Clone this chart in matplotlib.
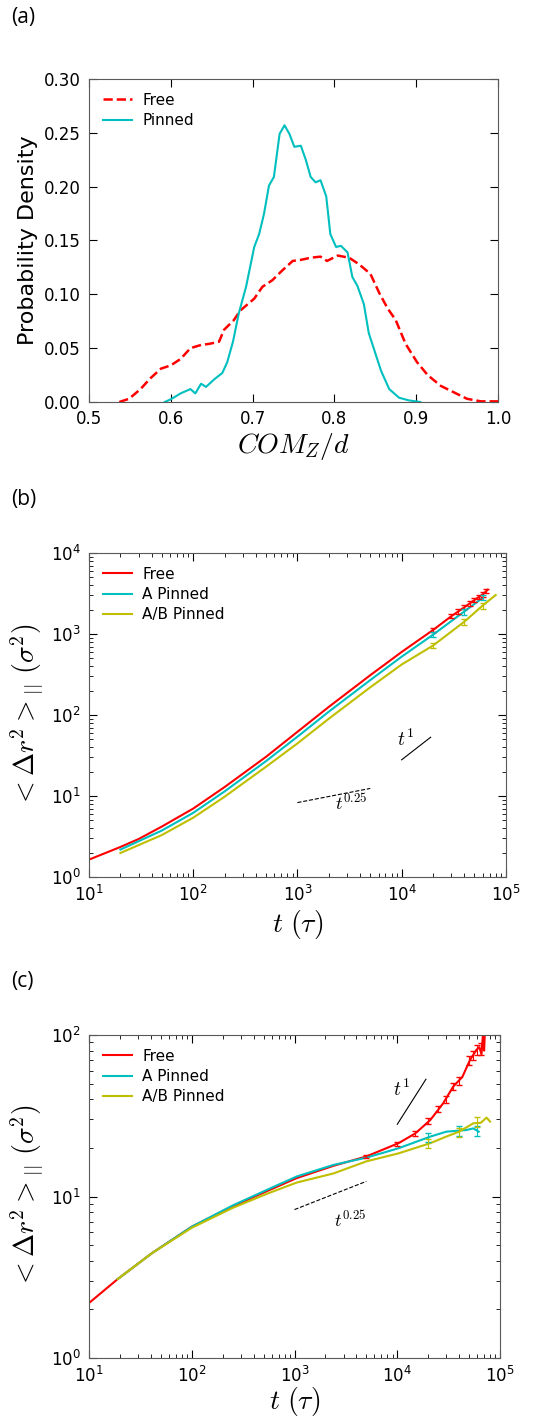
import numpy as np
import matplotlib.pyplot as plt

plt.rcParams['mathtext.fontset'] = 'cm'
plt.rcParams['font.family'] = 'DejaVu Sans'

# (a) COM distribution
free_x = [0.537, 0.549, 0.563, 0.575, 0.588, 0.600, 0.612, 0.624, 0.637, 0.647, 0.659, 0.665,
          0.677, 0.685, 0.702, 0.712, 0.724, 0.736, 0.749, 0.759, 0.771, 0.783, 0.791, 0.804,
          0.818, 0.830, 0.844, 0.855, 0.865, 0.875, 0.887, 0.901, 0.914, 0.930, 0.946, 0.962,
          0.979, 1.000]
free_y = [0.0, 0.003, 0.012, 0.022, 0.031, 0.034, 0.040, 0.050, 0.053, 0.054, 0.056, 0.067,
          0.076, 0.085, 0.096, 0.107, 0.113, 0.122, 0.131, 0.132, 0.134, 0.135, 0.131, 0.136,
          0.134, 0.128, 0.119, 0.101, 0.087, 0.076, 0.054, 0.037, 0.025, 0.015, 0.009, 0.003,
          0.0006, 0.0006]
pin_x = [0.5925, 0.600, 0.612, 0.624, 0.630, 0.637, 0.643, 0.653, 0.663, 0.669, 0.676, 0.683,
         0.692, 0.702, 0.708, 0.714, 0.720, 0.726, 0.733, 0.739, 0.745, 0.751, 0.759, 0.765,
         0.771, 0.777, 0.783, 0.790, 0.795, 0.802, 0.808, 0.816, 0.822, 0.828, 0.836, 0.842,
         0.848, 0.857, 0.867, 0.879, 0.891, 0.905]
pin_y = [0.0, 0.0025, 0.008, 0.012, 0.008, 0.017, 0.014, 0.021, 0.027, 0.037, 0.056, 0.082,
         0.107, 0.144, 0.156, 0.175, 0.201, 0.209, 0.249, 0.257, 0.249, 0.237, 0.238, 0.225,
         0.209, 0.204, 0.206, 0.191, 0.156, 0.144, 0.145, 0.139, 0.116, 0.108, 0.091, 0.064,
         0.050, 0.029, 0.012, 0.004, 0.0015, 0.0]

# (b) MSD, log-log
b_free_t = [10, 20, 30, 50, 100, 200, 500, 1000, 2000, 5000, 1e4, 2e4, 3e4, 4e4, 5e4, 6e4, 6.7e4]
b_free_m = [1.64, 2.35, 2.95, 4.2, 7.0, 12.9, 30.5, 62, 126, 310, 600, 1120, 1660, 2140, 2630, 3090, 3520]
b_a_t = [20, 50, 100, 200, 500, 1000, 2000, 5000, 1e4, 2e4, 4e4, 6e4]
b_a_m = [2.18, 3.75, 6.2, 11.4, 27, 54, 110, 270, 525, 980, 1900, 2800]
b_ab_t = [20, 50, 100, 200, 500, 1000, 2000, 5000, 1e4, 2e4, 4e4, 6e4, 8e4]
b_ab_m = [1.98, 3.3, 5.4, 9.8, 23, 44.6, 90, 220, 420, 720, 1420, 2250, 3030]
b_free_err_t = [2e4, 3e4, 3.5e4, 4e4, 4.5e4, 5e4, 5.5e4, 6e4, 6.5e4]
b_free_err_m = [1120, 1660, 1900, 2140, 2390, 2630, 2860, 3090, 3400]
b_free_err = [60, 90, 110, 130, 150, 170, 190, 210, 230]
b_a_err_t = [2e4, 4e4, 6e4]
b_a_err_m = [980, 1900, 2800]
b_a_err = [70, 160, 200]
b_ab_err_t = [2e4, 4e4, 6e4]
b_ab_err_m = [720, 1420, 2250]
b_ab_err = [50, 110, 190]

# (c) MSD parallel, log-log
c_free_t = [10, 19, 41, 100, 250, 540, 1050, 2400, 5000, 1.03e4, 1.5e4, 2.1e4, 2.8e4, 3.5e4,
            4.3e4, 5.1e4, 5.9e4, 6.3e4, 6.6e4, 6.8e4, 7.0e4, 7.1e4]
c_free_m = [2.19, 3.08, 4.46, 6.5, 8.7, 10.8, 13.0, 15.5, 17.7, 21.4, 24.6, 29.8, 37.8, 47.9,
            55, 70, 81, 84, 76, 98, 80, 100]
c_a_t = [19, 41, 100, 250, 540, 1050, 2400, 5000, 1.03e4, 2.1e4, 3e4, 4.7e4, 5.5e4, 6.2e4]
c_a_m = [3.08, 4.46, 6.5, 8.8, 11.0, 13.3, 15.7, 17.4, 19.9, 23.5, 25.2, 25.8, 26.4, 25.2]
c_ab_t = [19, 41, 100, 250, 540, 1050, 2400, 5000, 1.03e4, 2.1e4, 3e4, 4e4, 5.5e4, 6.5e4, 7.4e4, 8e4]
c_ab_m = [3.08, 4.46, 6.4, 8.5, 10.4, 12.2, 13.9, 16.5, 18.5, 21.4, 23.5, 25.2, 28.4, 28.6, 30.8, 29.1]
c_free_err_t = [5000, 1e4, 1.5e4, 2e4, 2.5e4, 3e4, 3.5e4, 4e4, 5e4, 5.5e4, 6e4, 6.5e4]
c_free_err_m = [17.7, 21.2, 24.6, 29.3, 35, 40, 47.9, 52, 70, 75, 81, 82]
c_free_err = [0.5, 0.7, 0.9, 1.2, 1.5, 2.0, 2.5, 3.0, 4.5, 5.0, 6.0, 7.0]
c_a_err_t = [2e4, 4e4, 6e4]
c_a_err_m = [23.3, 25.5, 25.6]
c_a_err = [1.5, 1.8, 1.8]
c_ab_err_t = [2e4, 4e4, 6e4]
c_ab_err_m = [21.3, 25.0, 29.0]
c_ab_err = [1.3, 1.7, 2.0]

fig = plt.figure(figsize=(5.58, 14.18), dpi=100)
ax1 = fig.add_axes([0.1595, 0.7165, 0.733, 0.2278])
ax2 = fig.add_axes([0.1595, 0.3815, 0.747, 0.2285])
ax3 = fig.add_axes([0.1595, 0.0423, 0.7366, 0.2278])

for ax in (ax1, ax2, ax3):
    ax.tick_params(which='both', direction='in', top=True, right=True, labelsize=12, pad=6)
    ax.tick_params(which='major', length=6)
    ax.tick_params(which='minor', length=3)
    for s in ax.spines.values():
        s.set_color('0.35')

leg_kw = dict(loc='upper left', frameon=False, fontsize=11, handlelength=1.9,
              handletextpad=0.7, labelspacing=0.35)

# 图 (a)
ax1.plot(free_x, free_y, 'r--', lw=1.8, label='Free')
ax1.plot(pin_x, pin_y, color='c', lw=1.5, label='Pinned')
ax1.set_xlim(0.5, 1.0)
ax1.set_ylim(0, 0.30)
ax1.set_xticks([0.5, 0.6, 0.7, 0.8, 0.9, 1.0])
ax1.set_yticks([0, 0.05, 0.10, 0.15, 0.20, 0.25, 0.30])
ax1.set_yticklabels(['0.00', '0.05', '0.10', '0.15', '0.20', '0.25', '0.30'])
ax1.set_xlabel('$COM_Z/d$', fontsize=20, labelpad=2)
ax1.set_ylabel('Probability Density', fontsize=16)
ax1.legend(**leg_kw)

# 图 (b)
ax2.plot(b_free_t, b_free_m, color='r', lw=1.5, label='Free')
ax2.plot(b_a_t, b_a_m, color='c', lw=1.5, label='A Pinned')
ax2.plot(b_ab_t, b_ab_m, color='y', lw=1.5, label='A/B Pinned')
ax2.errorbar(b_free_err_t, b_free_err_m, yerr=b_free_err, fmt='none', ecolor='r', capsize=2, lw=0.8)
ax2.errorbar(b_a_err_t, b_a_err_m, yerr=b_a_err, fmt='none', ecolor='c', capsize=2, lw=0.8)
ax2.errorbar(b_ab_err_t, b_ab_err_m, yerr=b_ab_err, fmt='none', ecolor='y', capsize=2, lw=0.8)
ax2.plot([1e4, 1.9e4], [28, 53.2], 'k-', lw=0.8)
ax2.plot([1000, 5000], [8.3, 8.3 * 5 ** 0.25], 'k--', lw=0.8)
ax2.text(9100, 42, '$t^1$', fontsize=14)
ax2.text(2300, 6.8, '$t^{0.25}$', fontsize=13)

# 图 (c)
ax3.plot(c_free_t, c_free_m, color='r', lw=1.5, label='Free')
ax3.plot(c_a_t, c_a_m, color='c', lw=1.5, label='A Pinned')
ax3.plot(c_ab_t, c_ab_m, color='y', lw=1.5, label='A/B Pinned')
ax3.errorbar(c_free_err_t, c_free_err_m, yerr=c_free_err, fmt='none', ecolor='r', capsize=2, lw=0.8)
ax3.errorbar(c_a_err_t, c_a_err_m, yerr=c_a_err, fmt='none', ecolor='c', capsize=2, lw=0.8)
ax3.errorbar(c_ab_err_t, c_ab_err_m, yerr=c_ab_err, fmt='none', ecolor='y', capsize=2, lw=0.8)
ax3.plot([1e4, 1.9e4], [28, 53.2], 'k-', lw=0.8)
ax3.plot([1000, 5000], [8.3, 8.3 * 5 ** 0.25], 'k--', lw=0.8)
ax3.text(9100, 42, '$t^1$', fontsize=14)
ax3.text(2400, 6.5, '$t^{0.25}$', fontsize=13)

for ax, ylim, lp in ((ax2, (1, 1e4), 2), (ax3, (1, 100), -1)):
    ax.set_xscale('log')
    ax.set_yscale('log')
    ax.set_xlim(10, 1e5)
    ax.set_ylim(*ylim)
    ax.set_xlabel(r'$t\ (\tau)$', fontsize=20, labelpad=lp)
    ax.set_ylabel(r'$<\Delta r^2>_{||}\ (\sigma^2)$', fontsize=20)
    ax.legend(**leg_kw)

for y, lab in ((0.988, '(a)'), (0.6474, '(b)'), (0.3075, '(c)')):
    fig.text(0.02, y, lab, fontsize=15, family='Open Sans', va='center')

fig.savefig('out.png', dpi=100)
